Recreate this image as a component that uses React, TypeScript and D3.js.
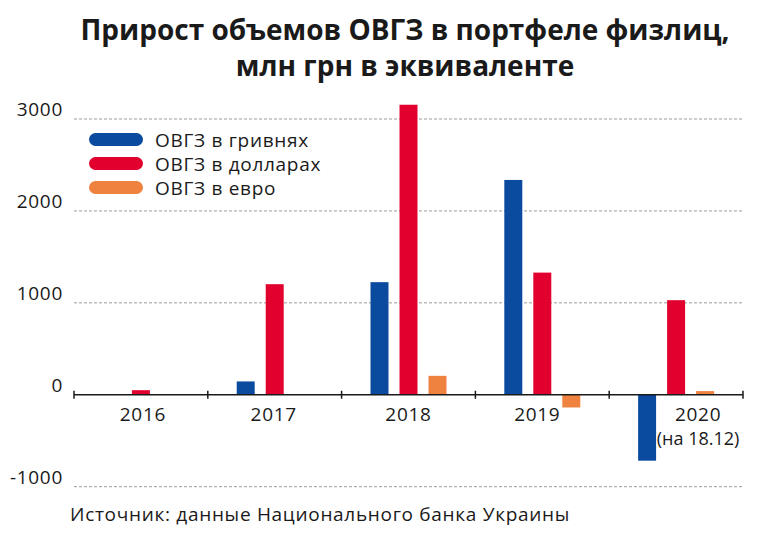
import * as d3 from "d3";

const years = ["2016", "2017", "2018", "2019", "2020"];
const yearNotes = ["", "", "", "", "(на 18.12)"];
const seriesNames = ["ОВГЗ в гривнях", "ОВГЗ в долларах", "ОВГЗ в евро"];
const seriesColors = ["#0a4ba0", "#e2002e", "#f0823f"];
const uahValues = [4, 145, 1225, 2337, -717];
const usdValues = [50, 1203, 3155, 1329, 1029];
const eurValues = [0, 4, 206, -138, 40];
const yTicks = [-1000, 0, 1000, 2000, 3000];

const W = 764;
const H = 534;
const FONT = "'Open Sans', sans-serif";
const LS = 0.7;
// year labels are nudged a bit in the original
const labelShift = [2, -1, 0, -5, 22];

const App = () => {
  const left = 74;
  const right = 743;
  const x = d3.scaleBand().domain(years).range([left, right]).padding(0);
  const y = d3.scaleLinear().domain([-1000, 3000]).range([486.7, 119]);
  const inner = d3
    .scaleBand()
    .domain(seriesNames)
    .range([-43.5, 43.5])
    .paddingInner(0.38)
    .paddingOuter(0.19);

  const series = [uahValues, usdValues, eurValues];
  const tickXs = [...years.map((yr) => x(yr)), right];

  return (
    <svg
      width={W}
      height={H}
      style={{ position: "absolute", left: 0, top: 0, background: "#fff" }}
      fontFamily={FONT}
    >
      <rect width={W} height={H} fill="#fff" />
      {/* title */}
      <text x={405} y={40} textAnchor="middle" fontSize={28} fontWeight="700" fill="#1a1a1a">
        Прирост объемов ОВГЗ в портфеле физлиц,
      </text>
      <text x={405} y={76} textAnchor="middle" fontSize={28} fontWeight="700" fill="#1a1a1a">
        млн грн в эквиваленте
      </text>

      {/* grid + y labels */}
      {yTicks.map((t) => (
        <g key={t}>
          {t !== 0 && (
            <line
              x1={left}
              x2={right}
              y1={y(t)}
              y2={y(t)}
              stroke="#9a9a9a"
              strokeWidth={1}
              strokeDasharray="3,2"
            />
          )}
          <text x={63} y={y(t) - 3} textAnchor="end" fontSize={19} letterSpacing={LS} fill="#1a1a1a">
            {t}
          </text>
        </g>
      ))}

      {/* bars */}
      {series.map((vals, si) =>
        vals.map((v, i) => {
          const cx = x(years[i]) + x.bandwidth() / 2;
          return (
            <rect
              key={si + "-" + i}
              x={cx + inner(seriesNames[si])}
              y={y(Math.max(0, v))}
              width={inner.bandwidth()}
              height={Math.abs(y(v) - y(0))}
              fill={seriesColors[si]}
            />
          );
        })
      )}

      {/* x axis */}
      <line x1={left} x2={right} y1={y(0)} y2={y(0)} stroke="#1a1a1a" strokeWidth={1.5} />
      {tickXs.map((tx, i) => (
        <line key={i} x1={tx} x2={tx} y1={y(0) - 4} y2={y(0) + 4} stroke="#1a1a1a" strokeWidth={1.5} />
      ))}
      {years.map((yr, i) => (
        <g key={yr}>
          <text
            x={x(yr) + x.bandwidth() / 2 + labelShift[i]}
            y={421}
            textAnchor="middle"
            fontSize={19}
            letterSpacing={LS}
            fill="#1a1a1a"
          >
            {yr}
          </text>
          {yearNotes[i] && (
            <text
              x={x(yr) + x.bandwidth() / 2 + labelShift[i]}
              y={445}
              textAnchor="middle"
              fontSize={18}
              fill="#1a1a1a"
            >
              {yearNotes[i]}
            </text>
          )}
        </g>
      ))}

      {/* legend */}
      {seriesNames.map((name, i) => (
        <g key={name} transform={`translate(89, ${133 + i * 24})`}>
          <rect width={54} height={13} rx={6.5} fill={seriesColors[i]} />
          <text x={66} y={13.5} fontSize={19} letterSpacing={LS} fill="#1a1a1a">
            {name}
          </text>
        </g>
      ))}

      {/* source */}
      <text x={70} y={521} fontSize={19} letterSpacing={LS} fill="#1a1a1a">
        Источник: данные Национального банка Украины
      </text>
    </svg>
  );
};

export default App;
